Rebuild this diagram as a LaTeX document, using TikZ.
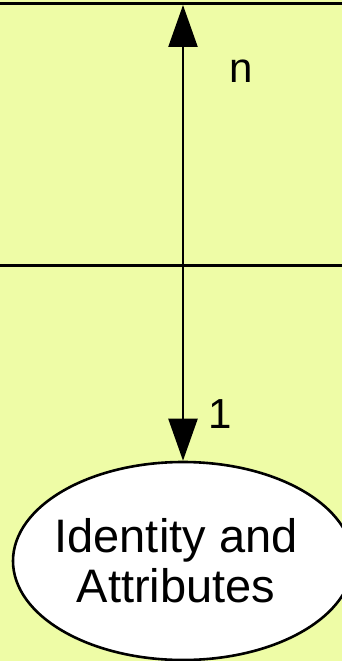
\documentclass[tikz,border=0pt]{standalone}
\usepackage{fontspec}
\setmainfont{Liberation Sans}
\usetikzlibrary{arrows.meta,shapes.geometric}
\definecolor{bgcol}{RGB}{238,252,166}
\tikzset{
  rule/.style={line width=3pt,black},
  conn/.style={line width=2.4pt,black,{Triangle[length=42pt,width=29pt]}-{Triangle[length=42pt,width=29pt]}},
  entity/.style={ellipse,draw=black,line width=2.6pt,fill=white,minimum width=340pt,minimum height=198pt,inner xsep=-30pt,inner ysep=0pt,align=center,font=\fontsize{47pt}{50pt}\selectfont},
  card/.style={font=\fontsize{42pt}{44pt}\selectfont,inner sep=0pt}
}
\begin{document}
\begin{tikzpicture}[x=1pt,y=-1pt]
\useasboundingbox (0,0) rectangle (342,661);
\fill[bgcol] (0,0) rectangle (342,661);
\clip (0,0) rectangle (342,661);
\coordinate (tl) at (0,3.5);
\coordinate (tr) at (342,3.5);
\coordinate (ml) at (0,265.5);
\coordinate (mr) at (342,265.5);
\draw[rule] (tl) -- (tr);
\draw[rule] (ml) -- (mr);
\coordinate (top) at (183,5);
\node[entity] (attr) at (183,561) {Identity and\hspace*{14pt}\\Attributes\hspace*{14pt}};
\draw[conn] (top) -- (attr.north);
\node[card,anchor=base] (n) at (241,82) {n};
\node[card,anchor=base] (one) at (220,428) {1};
\end{tikzpicture}
\end{document}
